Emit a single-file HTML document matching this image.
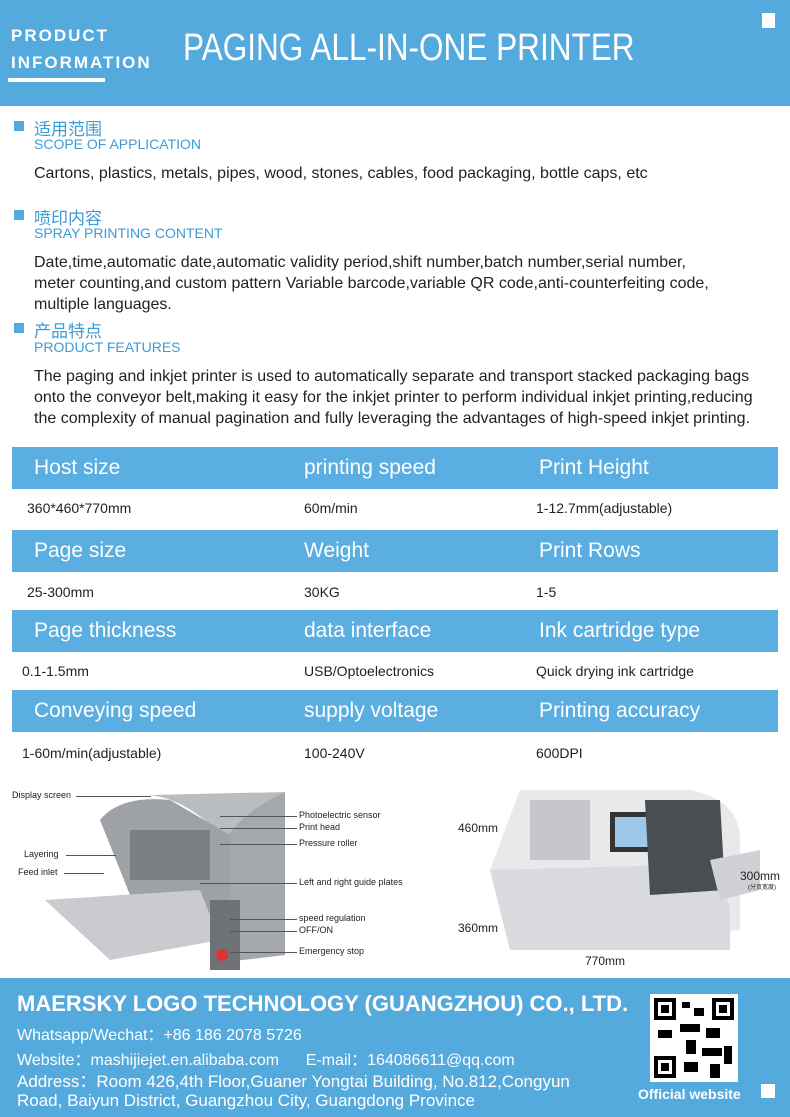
<!DOCTYPE html>
<html><head><meta charset="utf-8"><style>
*{margin:0;padding:0;box-sizing:border-box}
body{width:790px;height:1117px;background:#fff;font-family:"Liberation Sans","Noto Sans CJK SC",sans-serif;position:relative;overflow:hidden;color:#222}
.a{position:absolute}
.hdr{left:0;top:0;width:790px;height:106px;background:#54a9dd}
.sq{width:10px;height:10px;background:#54a9dd}
.cn{font-size:17px;color:#3d9bd6}
.en{font-size:14px;color:#3d9bd6}
.p{font-size:16px;line-height:21px;color:#222;white-space:nowrap}
.bar{left:12px;width:766px;height:42px;background:#5aaee1}
.bar span{position:absolute;top:9px;font-size:21px;color:#fff}
.row span{position:absolute;font-size:14px;color:#222}
.ft{left:0;top:978px;width:790px;height:139px;background:#54a9dd;color:#fff}
.lbl{font-size:9px;color:#222;position:absolute}
.ln{position:absolute;height:1px;background:#555}
</style></head><body>
<div class="a hdr">
 <div class="a" style="left:11px;top:22px;color:#fff;font-weight:bold;font-size:17px;letter-spacing:2px;line-height:27px">PRODUCT<br>INFORMATION</div>
 <div class="a" style="left:8px;top:78px;width:97px;height:4px;background:#fff"></div>
 <div class="a" style="left:183px;top:27px;color:#fff;font-size:38px;white-space:nowrap;transform:scaleX(0.83);transform-origin:left top">PAGING ALL-IN-ONE PRINTER</div>
 <div class="a" style="left:762px;top:13px;width:13px;height:15px;background:#fff"></div>
</div>

<div class="a sq" style="left:14px;top:121px"></div><div class="a cn" style="left:34px;top:115px">适用范围</div>
<div class="a en" style="left:34px;top:136px">SCOPE OF APPLICATION</div>
<div class="a p" style="left:34px;top:163px">Cartons, plastics, metals, pipes, wood, stones, cables, food packaging, bottle caps, etc</div>

<div class="a sq" style="left:14px;top:210px"></div><div class="a cn" style="left:34px;top:204px">喷印内容</div>
<div class="a en" style="left:34px;top:225px">SPRAY PRINTING CONTENT</div>
<div class="a p" style="left:34px;top:252px">Date,time,automatic date,automatic validity period,shift number,batch number,serial number,<br>meter counting,and custom pattern Variable barcode,variable QR code,anti-counterfeiting code,<br>multiple languages.</div>

<div class="a sq" style="left:14px;top:323px"></div><div class="a cn" style="left:34px;top:317px">产品特点</div>
<div class="a en" style="left:34px;top:339px">PRODUCT FEATURES</div>
<div class="a p" style="left:34px;top:366px">The paging and inkjet printer is used to automatically separate and transport stacked packaging bags<br>onto the conveyor belt,making it easy for the inkjet printer to perform individual inkjet printing,reducing<br>the complexity of manual pagination and fully leveraging the advantages of high-speed inkjet printing.</div>

<div class="a bar" style="top:447px"><span style="left:22px">Host size</span><span style="left:292px">printing speed</span><span style="left:527px">Print Height</span></div>
<div class="a row" style="top:500px;left:0;width:790px"><span style="left:27px">360*460*770mm</span><span style="left:304px">60m/min</span><span style="left:536px">1-12.7mm(adjustable)</span></div>
<div class="a bar" style="top:530px"><span style="left:22px">Page size</span><span style="left:292px">Weight</span><span style="left:527px">Print Rows</span></div>
<div class="a row" style="top:584px;left:0;width:790px"><span style="left:27px">25-300mm</span><span style="left:304px">30KG</span><span style="left:536px">1-5</span></div>
<div class="a bar" style="top:610px"><span style="left:22px">Page thickness</span><span style="left:292px">data interface</span><span style="left:527px">Ink cartridge type</span></div>
<div class="a row" style="top:663px;left:0;width:790px"><span style="left:22px">0.1-1.5mm</span><span style="left:304px">USB/Optoelectronics</span><span style="left:536px">Quick drying ink cartridge</span></div>
<div class="a bar" style="top:690px"><span style="left:22px">Conveying speed</span><span style="left:292px">supply voltage</span><span style="left:527px">Printing accuracy</span></div>
<div class="a row" style="top:745px;left:0;width:790px"><span style="left:22px">1-60m/min(adjustable)</span><span style="left:304px">100-240V</span><span style="left:536px">600DPI</span></div>

<svg class="a" style="left:40px;top:780px" width="260" height="190">
 <path d="M110 15 L245 12 L245 175 L185 182 L185 60 Q150 20 110 15Z" fill="#b9bcc0"/>
 <path d="M185 60 Q205 30 245 12 L245 175 L185 182Z" fill="#a4a8ad"/>
 <path d="M60 40 Q80 15 130 20 L190 55 L190 150 L100 140 Z" fill="#9ea2a6"/>
 <path d="M5 120 L160 110 L180 160 L70 180 Z" fill="#c9cbce"/>
 <rect x="170" y="120" width="30" height="70" fill="#6e7176"/>
 <circle cx="182" cy="175" r="6" fill="#d33"/>
 <rect x="90" y="50" width="80" height="50" fill="#7b7f84"/>
</svg>
<div class="lbl" style="left:12px;top:790px">Display screen</div><div class="ln" style="left:76px;top:796px;width:75px"></div>
<div class="lbl" style="left:24px;top:849px">Layering</div><div class="ln" style="left:66px;top:855px;width:50px"></div>
<div class="lbl" style="left:18px;top:867px">Feed inlet</div><div class="ln" style="left:64px;top:873px;width:40px"></div>
<div class="lbl" style="left:299px;top:810px">Photoelectric sensor</div>
<div class="lbl" style="left:299px;top:822px">Print head</div>
<div class="lbl" style="left:299px;top:838px">Pressure roller</div>
<div class="lbl" style="left:299px;top:877px">Left and right guide plates</div>
<div class="lbl" style="left:299px;top:913px">speed regulation</div>
<div class="lbl" style="left:299px;top:925px">OFF/ON</div>
<div class="lbl" style="left:299px;top:946px">Emergency stop</div>
<div class="ln" style="left:220px;top:816px;width:77px"></div><div class="ln" style="left:220px;top:828px;width:77px"></div>
<div class="ln" style="left:220px;top:844px;width:77px"></div><div class="ln" style="left:200px;top:883px;width:97px"></div>
<div class="ln" style="left:230px;top:919px;width:67px"></div><div class="ln" style="left:230px;top:931px;width:67px"></div>
<div class="ln" style="left:230px;top:952px;width:67px"></div>

<svg class="a" style="left:470px;top:780px" width="320" height="200">
 <path d="M50 10 L220 10 Q270 20 270 60 L270 150 L60 170 L20 90 Z" fill="#e8e9eb"/>
 <path d="M20 90 L210 85 Q260 90 260 140 L260 170 L40 170 Z" fill="#d8dadd"/>
 <rect x="140" y="32" width="45" height="40" fill="#333"/><rect x="145" y="37" width="35" height="30" fill="#9fc7e8"/>
 <path d="M175 20 L250 20 L255 110 L180 115Z" fill="#4a4d52"/>
 <path d="M240 80 L290 70 L290 110 L250 120Z" fill="#cfd1d4"/>
 <rect x="60" y="20" width="60" height="60" fill="#c4c6c9"/>
</svg>
<div class="a" style="left:458px;top:821px;font-size:12px">460mm</div>
<div class="a" style="left:458px;top:921px;font-size:12px">360mm</div>
<div class="a" style="left:585px;top:954px;font-size:12px">770mm</div>
<div class="a" style="left:740px;top:869px;font-size:12px">300mm</div>
<div class="a" style="left:748px;top:882px;font-size:6px">(分页宽度)</div>

<div class="a ft">
 <div class="a" style="left:17px;top:13px;font-size:22px;font-weight:bold;white-space:nowrap">MAERSKY LOGO TECHNOLOGY (GUANGZHOU) CO., LTD.</div>
 <div class="a" style="left:17px;top:43px;font-size:16px">Whatsapp/Wechat：+86  186 2078 5726</div>
 <div class="a" style="left:17px;top:68px;font-size:16px;white-space:nowrap">Website：mashijiejet.en.alibaba.com &nbsp;&nbsp;&nbsp;&nbsp;&nbsp;E-mail：164086611@qq.com</div>
 <div class="a" style="left:17px;top:94px;font-size:17px;line-height:19px;white-space:nowrap">Address：Room 426,4th Floor,Guaner Yongtai Building, No.812,Congyun<br>Road, Baiyun District, Guangzhou City, Guangdong Province</div>
 <svg class="a" style="left:650px;top:16px" width="88" height="88"><rect width="88" height="88" fill="#fff"/>
  <g fill="#000"><rect x="4" y="4" width="22" height="22"/><rect x="62" y="4" width="22" height="22"/><rect x="4" y="62" width="22" height="22"/>
  <rect x="32" y="8" width="8" height="6"/><rect x="44" y="14" width="10" height="8"/><rect x="30" y="30" width="20" height="8"/><rect x="56" y="34" width="14" height="10"/><rect x="8" y="36" width="14" height="8"/><rect x="36" y="46" width="10" height="14"/><rect x="52" y="54" width="20" height="8"/><rect x="34" y="68" width="14" height="10"/><rect x="60" y="70" width="10" height="14"/><rect x="74" y="52" width="8" height="18"/></g>
  <g fill="#fff"><rect x="8" y="8" width="14" height="14"/><rect x="66" y="8" width="14" height="14"/><rect x="8" y="66" width="14" height="14"/></g>
  <g fill="#000"><rect x="11" y="11" width="8" height="8"/><rect x="69" y="11" width="8" height="8"/><rect x="11" y="69" width="8" height="8"/></g></svg>
 <div class="a" style="left:638px;top:108px;font-size:14px;font-weight:bold">Official website</div>
 <div class="a" style="left:761px;top:106px;width:14px;height:14px;background:#fff"></div>
</div>
</body></html>
